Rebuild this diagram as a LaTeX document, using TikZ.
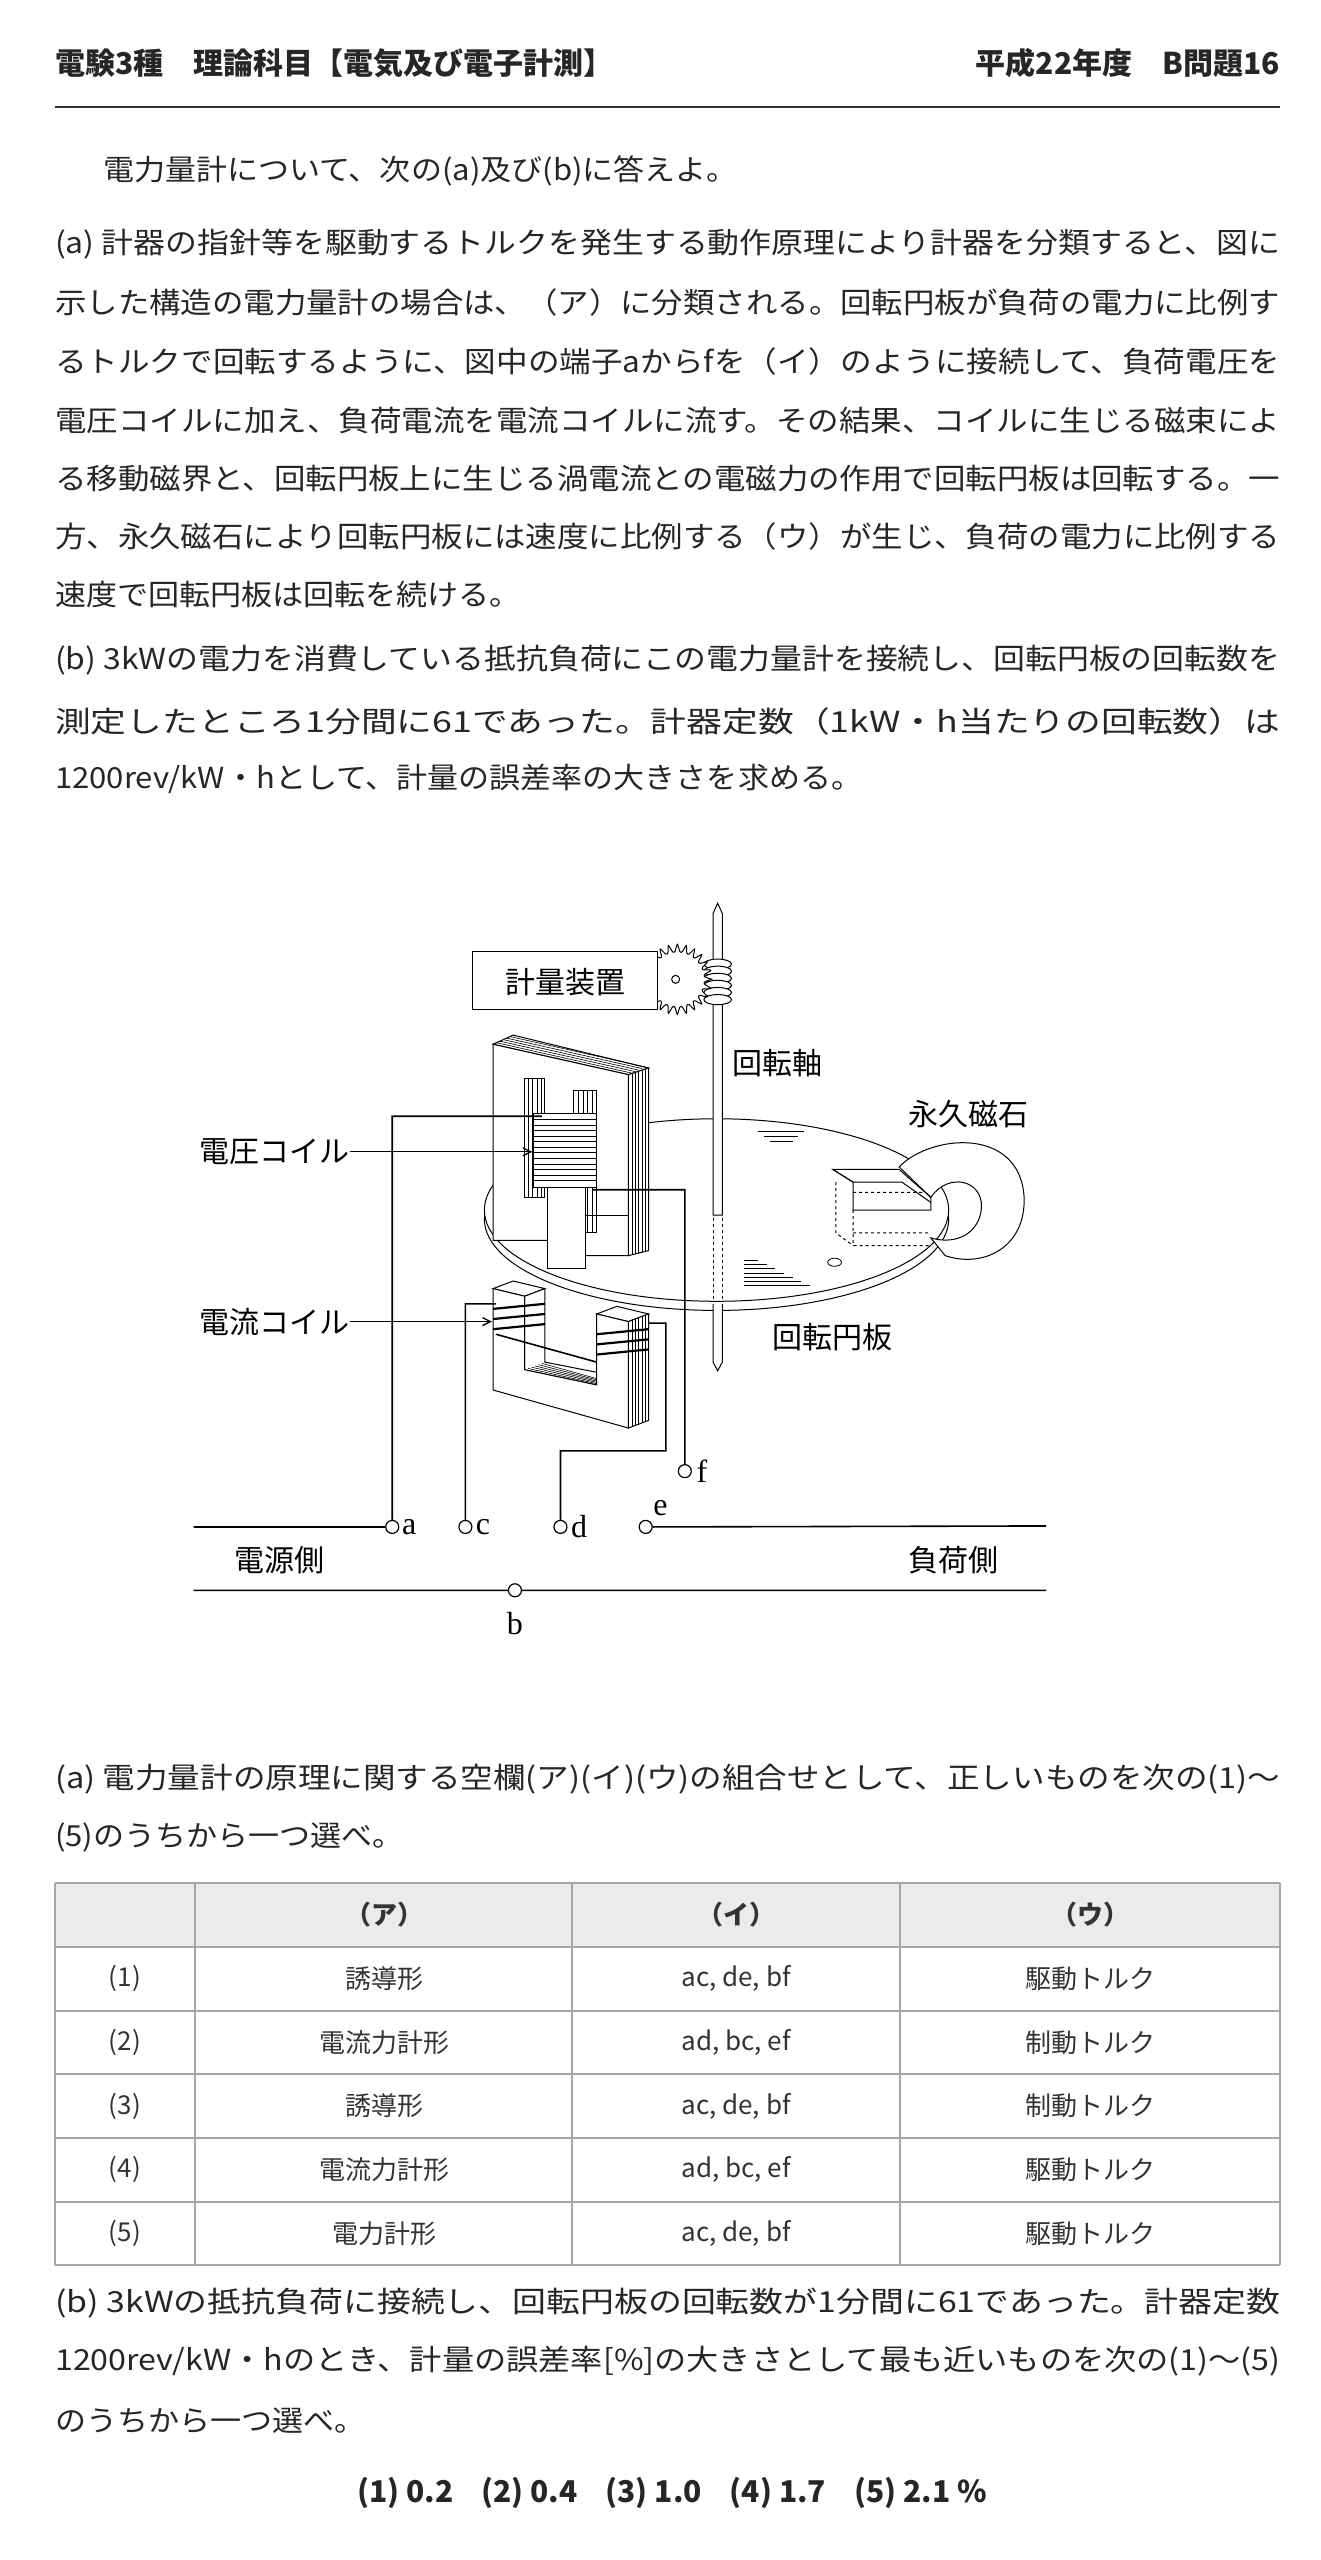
\documentclass[tikz,border=0pt]{standalone}
\usepackage{fontspec}
\usepackage{graphicx}
\setmainfont{Noto Sans CJK JP}
\newfontfamily\serif{Liberation Serif}
\usetikzlibrary{arrows.meta}
\newcommand{\fl}[1]{\resizebox{1225pt}{\height}{#1}}
\newcommand{\nl}[1]{\scalebox{1.07}[1]{#1}}
\begin{document}
\begin{tikzpicture}[x=1pt,y=-1pt,
  txt/.style={anchor=west,inner sep=0pt,font=\fontsize{29}{29}\selectfont,text=black!85},
  hd/.style={inner sep=0pt,font=\fontsize{30}{30}\selectfont\bfseries,text=black!85},
  cell/.style={inner sep=0pt,font=\fontsize{26}{26}\selectfont,text=black!80},
  lab/.style={inner sep=0pt,font=\fontsize{30}{30}\selectfont},
  ter/.style={circle,draw,fill=white,line width=1.2pt,minimum size=13pt,inner sep=0pt},
  tl/.style={inner sep=0pt,font=\serif\fontsize{32}{32}\selectfont},
  w/.style={line width=1.6pt},
  p/.style={line width=1pt,fill=white}]
\useasboundingbox[fill=white] (0,0) rectangle (1321,2560);
% header
\node[hd,anchor=west] (h1) at (55,63) {電験3種　理論科目【電気及び電子計測】};
\node[hd,anchor=east] (h2) at (1280,63) {平成22年度　B問題16};
\draw[line width=2.5pt,black!80] (55,107) -- (1280,107);
% intro
\node[txt] (t0) at (103,171) {\nl{電力量計について、次の(a)及び(b)に答えよ。}};
\node[txt] (a1) at (55,244) {\fl{(a) 計器の指針等を駆動するトルクを発生する動作原理により計器を分類すると、図に}};
\node[txt] (a2) at (55,302) {\fl{示した構造の電力量計の場合は、（ア）に分類される。回転円板が負荷の電力に比例す}};
\node[txt] (a3) at (55,361) {\fl{るトルクで回転するように、図中の端子aからfを（イ）のように接続して、負荷電圧を}};
\node[txt] (a4) at (55,421) {\fl{電圧コイルに加え、負荷電流を電流コイルに流す。その結果、コイルに生じる磁束によ}};
\node[txt] (a5) at (55,479) {\fl{る移動磁界と、回転円板上に生じる渦電流との電磁力の作用で回転円板は回転する。一}};
\node[txt] (a6) at (55,536) {\fl{方、永久磁石により回転円板には速度に比例する（ウ）が生じ、負荷の電力に比例する}};
\node[txt] (a7) at (55,594) {\nl{速度で回転円板は回転を続ける。}};
\node[txt] (b1) at (55,660) {\fl{(b) 3kWの電力を消費している抵抗負荷にこの電力量計を接続し、回転円板の回転数を}};
\node[txt] (b2) at (55,721) {\fl{測定したところ1分間に61であった。計器定数（1kW・h当たりの回転数）は}};
\node[txt] (b3) at (55,779) {\nl{1200rev/kW・hとして、計量の誤差率の大きさを求める。}};

% ===== diagram =====
\begin{scope}[shift={(182,883)},xscale=0.576,yscale=0.507]
% disk
\draw[p] (928,663) ellipse [x radius=403, y radius=180];
\draw[p] (928,645) ellipse [x radius=403, y radius=180];
\foreach \yy/\xa/\xb in {490/1000/1080,500/1010/1070,510/1020/1060} \draw[line width=0.8pt] (\xa,\yy)--(\xb,\yy);
\foreach \i in {0,...,6} \draw[line width=0.8pt] (975,745+\i*8)--(1000+\i*15,745+\i*8);
\draw[line width=0.8pt] (1133,748) ellipse [x radius=12, y radius=8];
% shaft lower & dashed
\draw[line width=1pt,dashed] (922,660)--(922,820) (938,660)--(938,820);
\draw[p] (922,830)--(922,945)--(930,962)--(938,945)--(938,830);
% shaft upper
\draw[p] (922,655)--(922,60)--(930,40)--(938,60)--(938,655)--cycle;
% worm
\foreach \yy in {160,174,188,202,216,230} \draw[p] (930,\yy) ellipse [x radius=24, y radius=10];
% gear
\draw[p] plot[domain=0:360,samples=73,smooth cycle] ({860+(52+8*cos(24*\x))*cos(\x)},{190+(52+8*cos(24*\x))*sin(\x)*1.15});
\node[circle,draw,line width=1pt,minimum size=8pt,inner sep=0pt] (gc) at (857,190) {};
\draw[p] (505,135) rectangle (825,250);
\node[lab] (kei) at (665,195) {計量装置};
\node[lab,anchor=west] (jiku) at (955,355) {回転軸};
% magnet
\draw[p] (1245,560) .. controls (1300,495) and (1455,480) .. (1462,620) .. controls (1465,720) and (1390,760) .. (1325,735) -- (1300,700) .. controls (1345,715) and (1385,690) .. (1388,640) .. controls (1390,585) and (1330,570) .. (1300,620) -- cycle;
\draw[p] (1130,565)--(1245,565)--(1300,620)--(1300,645)--(1165,645)--(1165,590)--cycle;
\draw[line width=1pt] (1165,590)--(1250,590)--(1300,630);
\draw[line width=1pt] (1130,565)--(1165,590);
\draw[line width=1pt,dashed] (1135,590)--(1135,690)--(1165,715) (1165,610)--(1290,610) (1165,690)--(1300,690) (1165,645)--(1165,715)--(1300,715);
\node[lab] (eik) at (1365,455) {永久磁石};
\node[lab] (enb) at (1130,895) {回転円板};
% voltage core
\draw[p] (540,318)--(575,300)--(810,365)--(775,378)--cycle;
\foreach \i in {1,...,5} \draw[line width=0.6pt] (540+\i*6,318-\i*3)--(775+\i*6,378-\i*3);
\draw[p] (775,378)--(810,365)--(810,725)--(775,735)--cycle;
\foreach \i in {1,...,5} \draw[line width=0.6pt] (775+\i*6,378-\i*2)--(775+\i*6,735-\i*2);
\draw[p] (540,318)--(775,378)--(775,735)--(700,735)--(700,760)--(635,760)--(635,705)--(540,705)--cycle;
\draw[p] (595,385) rectangle (630,620);
\foreach \i in {1,...,4} \draw[line width=0.6pt] (595+\i*7,385)--(595+\i*7,620);
\draw[p] (680,410) rectangle (720,690);
\foreach \i in {1,...,4} \draw[line width=0.6pt] (680+\i*8,410)--(680+\i*8,690);
\draw[p] (610,455) rectangle (720,600);
\foreach \i in {1,...,12} \draw[line width=0.7pt] (610,455+\i*11)--(720,455+\i*11);
\draw[p] (635,600) rectangle (700,760);
\draw[line width=1pt] (700,655)--(775,655);
% current core
\draw[p] (540,800)--(575,785)--(630,800)--(595,815)--cycle;
\draw[p] (720,850)--(755,835)--(810,850)--(775,865)--cycle;
\draw[p] (775,865)--(810,850)--(810,1060)--(775,1075)--cycle;
\foreach \i in {1,...,5} \draw[line width=0.6pt] (775+\i*6,865-\i*2.5)--(775+\i*6,1075-\i*2.5);
\draw[p] (595,815)--(630,800)--(630,945)--(720,965)--(720,990)--(595,960)--cycle;
\foreach \i in {1,...,5} \draw[line width=0.6pt] (595+\i*6,960-\i*2.5)--(720,990-\i*2.5);
\draw[p] (540,800)--(595,815)--(595,960)--(720,990)--(720,850)--(775,865)--(775,1075)--(540,1000)--cycle;
\foreach \yy in {835,855,875} \draw[line width=2.2pt] (540,\yy+5)--(630,\yy-5);
\foreach \yy in {885,905,925} \draw[line width=2.2pt] (720,\yy+5)--(810,\yy-5);
\draw[line width=1.6pt] (545,890)--(720,945);
% terminals
\node[ter] (ta) at (365,1270) {};
\node[ter] (tc) at (492,1270) {};
\node[ter] (td) at (657,1270) {};
\node[ter] (te) at (805,1270) {};
\node[ter] (tf) at (873,1160) {};
\node[ter] (tb) at (578,1395) {};
\coordinate (L1) at (20,1270); \coordinate (R1) at (1500,1268);
\coordinate (L2) at (20,1395); \coordinate (R2) at (1500,1395);
\draw[w] (L1)--(ta) (te)--(R1) (L2)--(tb)--(R2);
% wires
\coordinate (a1) at (365,460); \coordinate (a2) at (625,460);
\draw[w] (ta)--(a1)--(a2);
\coordinate (f1) at (873,605); \coordinate (f2) at (712,605);
\draw[w] (tf)--(f1)--(f2);
\coordinate (c1) at (492,830); \coordinate (c2) at (545,830);
\draw[w] (tc)--(c1)--(c2);
\coordinate (d1) at (657,1120); \coordinate (d2) at (840,1120); \coordinate (d3) at (840,868); \coordinate (d4) at (810,868);
\draw[w] (td)--(d1)--(d2)--(d3)--(d4);
% labels
\node[lab,anchor=west] (vc) at (30,530) {電圧コイル};
\node[lab,anchor=west] (cc) at (30,865) {電流コイル};
\coordinate (vca) at (608,530); \coordinate (cca) at (538,865);
\draw[line width=1.3pt,-{Straight Barb[length=8pt,width=8pt]}] (vc.east)--(vca);
\draw[line width=1.3pt,-{Straight Barb[length=8pt,width=8pt]}] (cc.east)--(cca);
\node[tl,anchor=west] (la) at (382,1270) {a};
\node[tl,anchor=west] (lc) at (510,1270) {c};
\node[tl,anchor=west] (ld) at (675,1270) {d};
\node[tl,anchor=west] (le) at (818,1232) {e};
\node[tl,anchor=west] (lf) at (893,1160) {f};
\node[tl] (lb) at (578,1460) {b};
\node[lab] (den) at (170,1335) {電源側};
\node[lab] (fuk) at (1340,1335) {負荷側};
\end{scope}

% question (a)
\node[txt] (q1) at (55,1779) {\fl{(a) 電力量計の原理に関する空欄(ア)(イ)(ウ)の組合せとして、正しいものを次の(1)～}};
\node[txt] (q2) at (55,1837) {\nl{(5)のうちから一つ選べ。}};
% table
\fill[black!8] (55,1883) rectangle (1280,1947);
\foreach \yy in {1883,1947,2011,2074,2138,2202,2265} \draw[black!35,line width=1.5pt] (55,\yy)--(1280,\yy);
\foreach \xx in {55,195,572,900,1280} \draw[black!35,line width=1.2pt] (\xx,1883)--(\xx,2265);
\node[cell,font=\fontsize{26}{26}\selectfont\bfseries] (hA) at (384,1915) {（ア）};
\node[cell,font=\fontsize{26}{26}\selectfont\bfseries] (hI) at (736,1915) {（イ）};
\node[cell,font=\fontsize{26}{26}\selectfont\bfseries] (hU) at (1090,1915) {（ウ）};
\foreach \n/\a/\b/\c [count=\k] in {(1)/誘導形/{ac, de, bf}/駆動トルク,(2)/電流力計形/{ad, bc, ef}/制動トルク,(3)/誘導形/{ac, de, bf}/制動トルク,(4)/電流力計形/{ad, bc, ef}/駆動トルク,(5)/電力計形/{ac, de, bf}/駆動トルク}{
  \node[cell] (r\k n) at (125,1915+\k*63.7) {\n};
  \node[cell] (r\k a) at (384,1915+\k*63.7) {\a};
  \node[cell] (r\k b) at (736,1915+\k*63.7) {\b};
  \node[cell] (r\k c) at (1090,1915+\k*63.7) {\c};
}
% question (b)
\node[txt] (p1) at (55,2303) {\fl{(b) 3kWの抵抗負荷に接続し、回転円板の回転数が1分間に61であった。計器定数}};
\node[txt] (p2) at (55,2361) {\fl{1200rev/kW・hのとき、計量の誤差率[\%]の大きさとして最も近いものを次の(1)～(5)}};
\node[txt] (p3) at (55,2421) {\nl{のうちから一つ選べ。}};
\node[hd,font=\fontsize{30}{30}\selectfont\bfseries] (ans) at (672,2493) {(1)\ 0.2\hspace{28pt}(2)\ 0.4\hspace{28pt}(3)\ 1.0\hspace{28pt}(4)\ 1.7\hspace{28pt}(5)\ 2.1 \%};
\end{tikzpicture}
\end{document}
